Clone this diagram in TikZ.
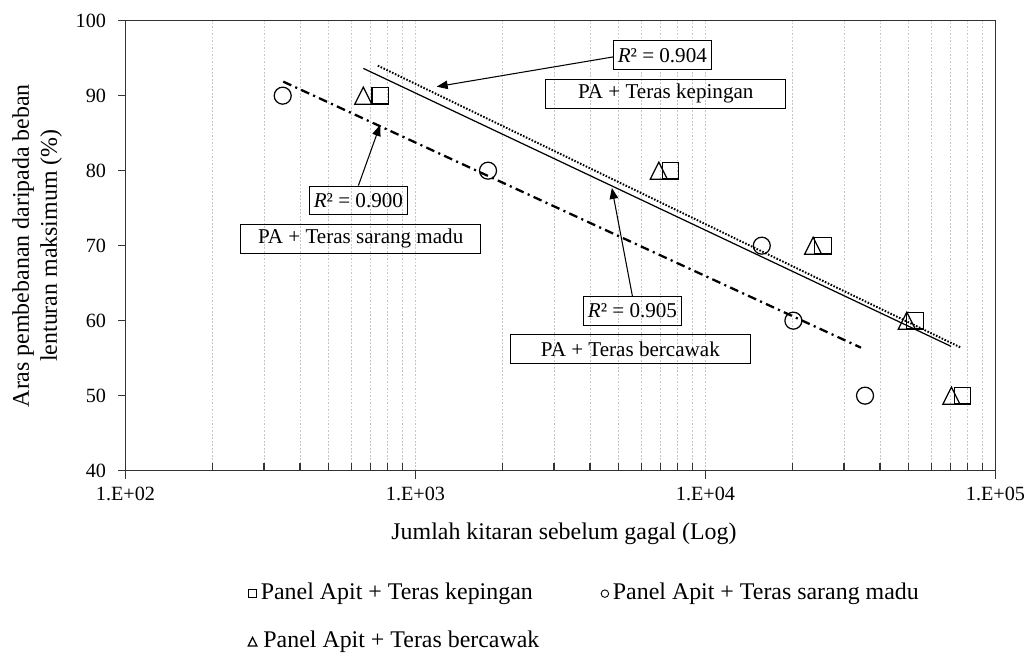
\documentclass[tikz,border=0pt]{standalone}
\usepackage{fontspec}
\setmainfont{Liberation Serif}
\usetikzlibrary{positioning,arrows.meta}

\tikzset{
  grid line/.style={gray!45, line width=0.4pt, dash pattern=on 1pt off 1pt},
  axis line/.style={black!80, line width=0.75pt},
  sq/.style={draw, line width=0.7pt, minimum size=0.33cm, inner sep=0pt},
  circ/.style={draw, circle, line width=0.7pt, minimum size=0.34cm, inner sep=0pt},
  pics/tri/.style={code={\draw[line width=0.7pt] (-0.17cm,-0.17cm) -- (0.17cm,-0.17cm) -- (0,0.17cm) -- cycle;}},
  labelbox/.style={draw, line width=0.6pt, minimum width=4.8cm, minimum height=0.58cm, inner sep=1pt, font=\fontsize{12}{14}\selectfont},
  rbox/.style={draw, line width=0.6pt, minimum width=1.95cm, minimum height=0.57cm, inner sep=1pt, font=\fontsize{12}{14}\selectfont},
  legtext/.style={anchor=west, inner sep=1pt, font=\fontsize{13.6}{16}\selectfont},
  pointer/.style={-{Triangle[length=2.2mm,width=1.7mm]}, line width=0.6pt},
}

\begin{document}
\begin{tikzpicture}[x=5.8cm, y=0.15cm, font=\fontsize{11.5}{13}\selectfont]
  \useasboundingbox (1.5672,15.48) rectangle (5.1155,102.758);

  % Grid lines (log axis)
  \foreach \d in {2,3,4}
    \foreach \k in {2,...,10}
      \draw[grid line] ({\d+log10(\k)},40) -- ({\d+log10(\k)},100);

  % Plot frame
  \draw[axis line] (2,40) rectangle (5,100);

  % Ticks and tick labels
  \foreach \d in {2,3,4}
    \foreach \k in {2,...,9}
      \draw[axis line] ({\d+log10(\k)},40) -- ++(0,4.5pt);
  \foreach \d/\lab in {2/1.E+02,3/1.E+03,4/1.E+04,5/1.E+05}{
    \draw[axis line] (\d,40) -- ++(0,-4.5pt);
    \node (xt\d) at (\d,36.9) {\lab};
  }
  \foreach \v in {40,50,...,100}{
    \draw[axis line] (2,\v) -- ++(-4.5pt,0);
    \node[anchor=east, inner sep=1pt] (yt\v) at (1.94,\v) {\v};
  }

  % Axis titles
  \node[font=\fontsize{13.6}{16}\selectfont] (xlab) at (3.512,31.6) {Jumlah kitaran sebelum gagal (Log)};
  \node[rotate=90, align=center, font=\fontsize{13.6}{16}\selectfont] (ylab) at (1.695,70)
    {Aras pembebanan daripada beban\\lenturan maksimum (\%)};

  % Trend lines
  \draw[line width=0.7pt] (2.820,93.64) -- (4.847,56.57);
  \draw[line width=1.1pt, dash pattern=on 0.9pt off 0.9pt] (2.870,94.0) -- (4.881,56.4);
  \draw[line width=1.3pt, dash pattern=on 5pt off 2.5pt on 1.2pt off 2.5pt] (2.544,91.87) -- (4.536,56.4);

  % Data: Teras bercawak
  \foreach \lx/\v in {2.820/90,3.839/80,4.371/70,4.694/60,4.848/50}
    \pic at (\lx,\v) {tri};
  % Data: Teras kepingan
  \foreach \lx/\v [count=\i] in {2.878/90,3.879/80,4.405/70,4.722/60,4.886/50}
    \node[sq] (kep\i) at (\lx,\v) {};
  % Data: Teras sarang madu
  \foreach \lx/\v [count=\i] in {2.542/90,3.250/80,4.194/70,4.303/60,4.550/50}
    \node[circ] (sar\i) at (\lx,\v) {};

  % Labels
  \node[rbox, fill=white] (R904) at (3.851,95.40) {\textit{R}² = 0.904};
  \node[labelbox] (Lkep) at (3.863,90.27) {PA + Teras kepingan};
  \node[rbox] (R900) at (2.803,76.04) {\textit{R}² = 0.900};
  \node[labelbox] (Lsar) at (2.811,70.95) {PA + Teras sarang madu};
  \node[rbox] (R905) at (3.748,61.28) {\textit{R}² = 0.905};
  \node[labelbox] (Lber) at (3.741,56.23) {PA + Teras bercawak};

  % Pointers
  \coordinate (tip904) at (3.073,91.2);
  \coordinate (tip900) at (2.878,86.1);
  \coordinate (tip905) at (3.677,77.7);
  \draw[pointer] ([yshift=-1pt]R904.west) -- (tip904);
  \draw[pointer] (R900.north) -- (tip900);
  \draw[pointer] (R905.north) -- (tip905);

  % Legend
  \node[sq, minimum size=0.16cm, line width=0.5pt] (lgk) at (2.438,23.6) {};
  \node[legtext, right=1pt of lgk] (lgkt) {Panel Apit + Teras kepingan};
  \node[circ, minimum size=0.15cm, line width=0.5pt] (lgs) at (3.653,23.6) {};
  \node[legtext, right=1pt of lgs] (lgst) {Panel Apit + Teras sarang madu};
  \coordinate (lgb) at (2.438,17.2);
  \pic[scale=0.5] at (lgb) {tri};
  \node[legtext] (lgbt) at ([xshift=5pt]lgb) {Panel Apit + Teras bercawak};
\end{tikzpicture}
\end{document}
